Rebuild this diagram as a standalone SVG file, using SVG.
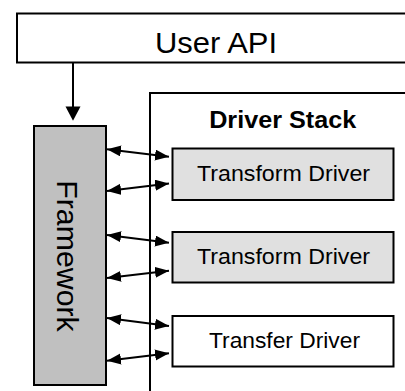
<svg xmlns="http://www.w3.org/2000/svg" width="405" height="391" viewBox="0 0 405 391">
  <style>
    .box { stroke: #000; stroke-width: 2; }
    .lbl { font-family: "Liberation Sans", Arial, sans-serif; fill: #000; text-anchor: middle; }
    .conn { stroke: #000; stroke-width: 2; fill: none; }
  </style>
  <defs>
    <marker id="ah" markerUnits="userSpaceOnUse" markerWidth="15" markerHeight="12" refX="14" refY="5.5" orient="auto-start-reverse" viewBox="0 0 15 12">
      <path d="M0,0 L14,5.5 L0,11 z" fill="#000"/>
    </marker>
  </defs>
  <rect width="405" height="391" fill="#fff"/>

  <g id="user-api">
    <rect class="box" x="17" y="13.5" width="400" height="49" fill="#fff"/>
    <text class="lbl" x="216" y="53.3" font-size="29" textLength="122" lengthAdjust="spacingAndGlyphs">User API</text>
  </g>

  <g id="driver-stack">
    <rect class="box" x="150" y="93" width="300" height="350" fill="#fff"/>
    <text class="lbl" x="282.7" y="128.3" font-size="23" font-weight="bold" textLength="147" lengthAdjust="spacingAndGlyphs">Driver Stack</text>
  </g>

  <g id="framework">
    <rect class="box" x="34" y="126" width="72" height="259" fill="#c0c0c0"/>
    <text class="lbl" transform="translate(56.7,256) rotate(90)" x="0" y="0" font-size="30.3">Framework</text>
  </g>

  <g id="transform-driver-1">
    <rect class="box" x="172.5" y="148.5" width="221" height="51.5" fill="#e0e0e0"/>
    <text class="lbl" x="283.5" y="180.8" font-size="22" textLength="173" lengthAdjust="spacingAndGlyphs">Transform Driver</text>
  </g>

  <g id="transform-driver-2">
    <rect class="box" x="172.5" y="232" width="221" height="50.5" fill="#e0e0e0"/>
    <text class="lbl" x="283.5" y="264" font-size="22" textLength="173" lengthAdjust="spacingAndGlyphs">Transform Driver</text>
  </g>

  <g id="transfer-driver">
    <rect class="box" x="172.5" y="316" width="221" height="50.5" fill="#fff"/>
    <text class="lbl" x="284.5" y="348.3" font-size="22" textLength="151" lengthAdjust="spacingAndGlyphs">Transfer Driver</text>
  </g>

  <g id="connectors">
    <line class="conn" x1="73" y1="63" x2="73" y2="107"/>
    <path d="M65.5,106.5 L80.5,106.5 L73,120.7 z" fill="#000"/>
    <line class="conn" x1="107" y1="149.3" x2="169" y2="156.7" marker-start="url(#ah)" marker-end="url(#ah)"/>
    <line class="conn" x1="107" y1="191" x2="169" y2="183.5" marker-start="url(#ah)" marker-end="url(#ah)"/>
    <line class="conn" x1="107" y1="235" x2="169" y2="242.7" marker-start="url(#ah)" marker-end="url(#ah)"/>
    <line class="conn" x1="107" y1="278" x2="169" y2="270.7" marker-start="url(#ah)" marker-end="url(#ah)"/>
    <line class="conn" x1="107" y1="318" x2="169" y2="326" marker-start="url(#ah)" marker-end="url(#ah)"/>
    <line class="conn" x1="107" y1="360.7" x2="169" y2="353.3" marker-start="url(#ah)" marker-end="url(#ah)"/>
  </g>
</svg>
